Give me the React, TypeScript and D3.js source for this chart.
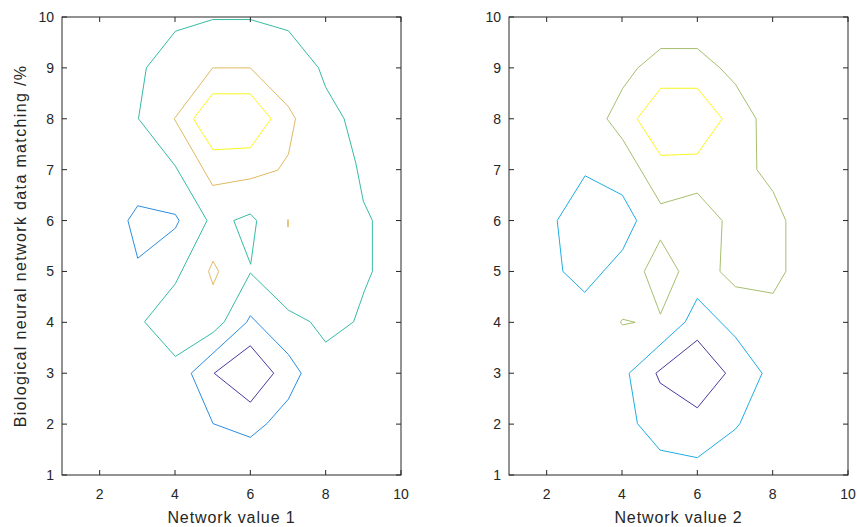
import React, { useEffect, useRef } from 'react';
import * as d3 from 'd3';

type Pt = [number, number];

// contour lines, [x, y] in data units
const leftPurple: Pt[] = [[6.0, 3.54], [6.62, 3.0], [6.0, 2.43], [5.04, 3.0], [6.0, 3.54]];
const leftBlueLow: Pt[] = [
  [6.0, 4.13], [5.9, 4.0], [4.43, 3.0], [5.01, 2.01], [6.0, 1.74], [6.44, 2.01],
  [7.01, 2.49], [7.35, 3.0], [7.01, 3.37], [6.0, 4.13],
];
const leftBlueSide: Pt[] = [
  [3.01, 6.29], [4.01, 6.12], [4.11, 6.0], [4.01, 5.85], [3.01, 5.26], [2.75, 6.0], [3.01, 6.29],
];
const leftTealOuter: Pt[] = [
  [4.01, 9.72], [5.0, 9.95], [6.0, 9.95], [7.01, 9.73], [7.81, 9.0], [8.0, 8.62], [8.49, 8.0],
  [8.8, 7.13], [9.0, 6.38], [9.24, 6.0], [9.24, 5.0], [9.03, 4.62], [8.74, 4.01], [8.0, 3.61],
  [7.59, 4.01], [7.01, 4.24], [6.0, 4.97], [5.31, 4.01], [5.01, 3.8], [4.01, 3.33], [3.19, 4.01],
  [4.01, 4.76], [4.85, 6.0], [4.01, 7.07], [3.03, 8.0], [3.24, 9.0], [4.01, 9.72],
];
const leftTealInner: Pt[] = [[5.56, 6.0], [6.0, 6.13], [6.17, 6.0], [6.01, 5.14], [5.56, 6.0]];
const leftTan: Pt[] = [
  [5.0, 9.0], [6.0, 9.0], [7.01, 8.24], [7.2, 8.0], [7.01, 7.3], [6.73, 6.99], [6.0, 6.82],
  [5.0, 6.69], [3.98, 8.0], [5.0, 9.0],
];
const leftTanDiamond: Pt[] = [[5.01, 5.2], [5.16, 5.0], [5.01, 4.74], [4.89, 5.0], [5.01, 5.2]];
const leftTanSpeck: Pt[] = [[7.0, 6.02], [7.01, 5.95], [7.0, 5.87], [6.99, 5.95], [7.0, 6.02]];
const leftYellow: Pt[] = [
  [5.0, 8.49], [6.0, 8.49], [6.55, 8.0], [6.0, 7.43], [5.01, 7.39], [4.49, 8.0], [5.0, 8.49],
];

const rightPurple: Pt[] = [[6.0, 3.65], [6.75, 3.0], [6.0, 2.32], [5.01, 2.81], [4.9, 3.0], [6.0, 3.65]];
const rightBlueLow: Pt[] = [
  [6.0, 4.47], [5.68, 4.01], [4.19, 3.0], [4.41, 2.01], [5.01, 1.49], [6.0, 1.34], [7.01, 1.9],
  [7.13, 2.01], [7.72, 3.0], [7.01, 3.71], [6.0, 4.47],
];
const rightBlueSide: Pt[] = [
  [3.02, 6.88], [4.01, 6.5], [4.39, 6.0], [4.02, 5.43], [3.01, 4.59], [2.43, 5.0], [2.28, 6.0], [3.02, 6.88],
];
const rightOliveOuter: Pt[] = [
  [5.03, 9.38], [6.0, 9.38], [6.6, 9.0], [7.01, 8.68], [7.56, 8.0], [7.58, 7.0], [8.01, 6.57],
  [8.35, 6.0], [8.35, 5.0], [8.01, 4.57], [7.01, 4.7], [6.6, 5.0], [6.66, 6.0], [6.0, 6.54],
  [5.03, 6.33], [4.02, 7.59], [3.6, 8.0], [4.02, 8.6], [4.42, 9.0], [5.03, 9.38],
];
const rightOliveDiamond: Pt[] = [[5.02, 5.62], [5.51, 5.0], [5.02, 4.16], [4.59, 5.0], [5.02, 5.62]];
const rightOliveDrop: Pt[] = [[3.97, 4.02], [4.02, 4.06], [4.35, 4.0], [4.02, 3.95], [3.97, 3.98], [3.97, 4.02]];
const rightYellow: Pt[] = [
  [5.03, 8.6], [6.0, 8.6], [6.66, 8.0], [6.0, 7.31], [5.03, 7.28], [4.4, 8.0], [5.03, 8.6],
];

const xTicks = [2, 4, 6, 8, 10];
const yTicks = [1, 2, 3, 4, 5, 6, 7, 8, 9, 10];

const panels = [
  {
    left: 62,
    xLabel: 'Network value 1',
    lines: [
      { pts: leftPurple, color: '#4a3a9f' },
      { pts: leftBlueLow, color: '#2b8ee0' },
      { pts: leftBlueSide, color: '#2b8ee0' },
      { pts: leftTealOuter, color: '#36bba5' },
      { pts: leftTealInner, color: '#36bba5' },
      { pts: leftTan, color: '#e0ba62' },
      { pts: leftTanDiamond, color: '#e0ba62' },
      { pts: leftTanSpeck, color: '#e0ba62' },
      { pts: leftYellow, color: '#f9f61e' },
    ],
  },
  {
    left: 509,
    xLabel: 'Network value 2',
    lines: [
      { pts: rightPurple, color: '#4a3a9f' },
      { pts: rightBlueLow, color: '#1fade4' },
      { pts: rightBlueSide, color: '#1fade4' },
      { pts: rightOliveOuter, color: '#a6bf6e' },
      { pts: rightOliveDiamond, color: '#a6bf6e' },
      { pts: rightOliveDrop, color: '#a6bf6e' },
      { pts: rightYellow, color: '#f9f61e' },
    ],
  },
];

const width = 857;
const height = 527;
const plotW = 339;
const top = 17;
const bottom = 475;
const font = 'Arial, "Liberation Sans", Helvetica, sans-serif';

const App: React.FC = () => {
  const svgRef = useRef<SVGSVGElement>(null);

  useEffect(() => {
    if (!svgRef.current) return;
    const svg = d3.select(svgRef.current);
    svg.selectAll('*').remove();

    svg.append('rect').attr('width', width).attr('height', height).attr('fill', '#fff');

    panels.forEach((p) => {
      const x = d3.scaleLinear().domain([1, 10]).range([p.left, p.left + plotW]);
      const y = d3.scaleLinear().domain([1, 10]).range([bottom, top]);
      const line = d3.line<Pt>().x(d => x(d[0])).y(d => y(d[1]));

      const g = svg.append('g');

      g.selectAll('.contour')
        .data(p.lines)
        .enter().append('path')
        .attr('d', d => line(d.pts))
        .attr('fill', 'none')
        .attr('stroke', d => d.color)
        .attr('stroke-width', 1);

      // box with inward ticks on all four sides
      g.append('rect')
        .attr('x', p.left).attr('y', top)
        .attr('width', plotW).attr('height', bottom - top)
        .attr('fill', 'none').attr('stroke', '#262626').attr('stroke-width', 1);

      const tl = 5;
      xTicks.forEach(t => {
        g.append('line').attr('x1', x(t)).attr('x2', x(t)).attr('y1', bottom).attr('y2', bottom - tl)
          .attr('stroke', '#262626');
        g.append('line').attr('x1', x(t)).attr('x2', x(t)).attr('y1', top).attr('y2', top + tl)
          .attr('stroke', '#262626');
        g.append('text').attr('x', x(t)).attr('y', bottom + 24)
          .attr('text-anchor', 'middle').attr('font-family', font).attr('font-size', 14)
          .attr('fill', '#262626').text(t);
      });
      yTicks.forEach(t => {
        g.append('line').attr('x1', p.left).attr('x2', p.left + tl).attr('y1', y(t)).attr('y2', y(t))
          .attr('stroke', '#262626');
        g.append('line').attr('x1', p.left + plotW).attr('x2', p.left + plotW - tl).attr('y1', y(t)).attr('y2', y(t))
          .attr('stroke', '#262626');
        g.append('text').attr('x', p.left - 8).attr('y', y(t)).attr('dy', '0.36em')
          .attr('text-anchor', 'end').attr('font-family', font).attr('font-size', 14)
          .attr('fill', '#262626').text(t);
      });

      g.append('text')
        .attr('x', p.left + plotW / 2).attr('y', 523)
        .attr('text-anchor', 'middle').attr('font-family', font).attr('font-size', 16)
        .attr('letter-spacing', 0.9)
        .attr('fill', '#262626').text(p.xLabel);
    });

    svg.append('text')
      .attr('transform', `translate(25.5, ${(top + bottom) / 2}) rotate(-90)`)
      .attr('text-anchor', 'middle').attr('font-family', font).attr('font-size', 16)
      .attr('letter-spacing', 1.35)
      .attr('fill', '#262626').text('Biological neural network data matching /%');
  }, []);

  return (
    <div style={{ position: 'absolute', left: 0, top: 0 }}>
      <svg ref={svgRef} width={width} height={height} style={{ display: 'block' }} />
    </div>
  );
};

export default App;
